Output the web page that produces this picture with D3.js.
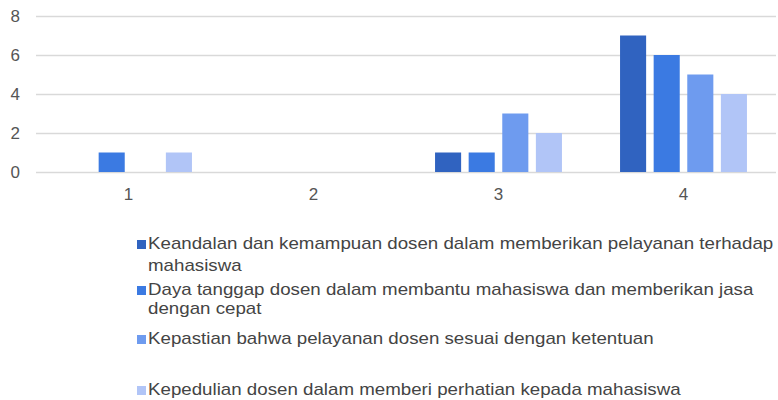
<!DOCTYPE html>
<html>
<head>
<meta charset="utf-8">
<script src="https://cdn.jsdelivr.net/npm/d3@7"></script>
<style>
  body { margin: 0; background: #fff; }
  svg text { font-family: "Liberation Sans", Arial, sans-serif; }
</style>
</head>
<body>
<div id="chart"></div>
<script>
// Our data
const categories = ['1', '2', '3', '4']
const seriesNames = [
  'Keandalan dan kemampuan dosen dalam memberikan pelayanan terhadap|mahasiswa',
  'Daya tanggap dosen dalam membantu mahasiswa dan memberikan jasa|dengan cepat',
  'Kepastian bahwa pelayanan dosen sesuai dengan ketentuan',
  'Kepedulian dosen dalam memberi perhatian kepada mahasiswa'
]
const keandalan = [0, 0, 1, 7]
const dayaTanggap = [1, 0, 1, 6]
const kepastian = [0, 0, 3, 5]
const kepedulian = [1, 0, 2, 4]
const yTicks = [0, 2, 4, 6, 8]

const colors = ['#3063c0', '#3b7ae2', '#6e9bef', '#b1c5f7']
const seriesValues = [keandalan, dayaTanggap, kepastian, kepedulian]

// canvas
const width = 778,
  height = 400,
  plotLeft = 36,
  plotRight = 776,
  plotTop = 16,
  plotBottom = 172

let svg = d3.select('#chart')
  .append('svg')
  .attr('width', width)
  .attr('height', height)

let x0 = d3.scaleBand()
  .domain(categories)
  .range([plotLeft, plotRight])
  .paddingInner(0.314)
  .paddingOuter(0.157)

let x1 = d3.scaleBand()
  .domain(d3.range(seriesValues.length))
  .range([0, x0.bandwidth()])
  .paddingInner(0.224)

let y = d3.scaleLinear()
  .domain([0, 8])
  .range([plotBottom, plotTop])

// gridlines + y labels
let yAxis = d3.axisLeft(y)
  .tickValues(yTicks)
  .tickSize(-(plotRight - plotLeft))
  .tickPadding(16)

let gy = svg.append('g')
  .attr('transform', `translate(${plotLeft},0)`)
  .call(yAxis)
gy.select('.domain').remove()
gy.selectAll('.tick line').attr('stroke', '#d9d9d9').attr('stroke-width', 1.5)
gy.selectAll('.tick text')
  .attr('fill', '#555')
  .style('font-size', '17px')

// bars
categories.forEach((c, ci) => {
  svg.append('g')
    .selectAll('rect')
    .data(seriesValues.map((s, si) => ({ si: si, v: s[ci] })).filter(d => d.v > 0))
    .enter()
    .append('rect')
    .attr('x', d => x0(c) + x1(d.si))
    .attr('y', d => y(d.v))
    .attr('width', x1.bandwidth())
    .attr('height', d => y(0) - y(d.v))
    .attr('fill', d => colors[d.si])
})

// x labels
let gx = svg.append('g')
  .attr('transform', `translate(0,${plotBottom})`)
  .call(d3.axisBottom(x0).tickSize(0).tickPadding(16))
gx.select('.domain').remove()
gx.selectAll('.tick text')
  .attr('fill', '#555')
  .style('font-size', '17px')

// legend (baselines of each text line, text a bit wide like the original)
const legendLines = [[249, 271], [295, 314], [344], [395]]
const legendX = 137
let legend = svg.append('g')
seriesNames.forEach((name, i) => {
  let base = legendLines[i]
  legend.append('rect')
    .attr('x', legendX)
    .attr('y', base[0] - 9)
    .attr('width', 9)
    .attr('height', 9)
    .attr('fill', colors[i])
  name.split('|').forEach((line, li) => {
    legend.append('text')
      .attr('transform', `translate(148,${base[li]}) scale(1.17,1)`)
      .attr('fill', '#444')
      .style('font-size', '16px')
      .text(line)
  })
})
</script>
</body>
</html>
